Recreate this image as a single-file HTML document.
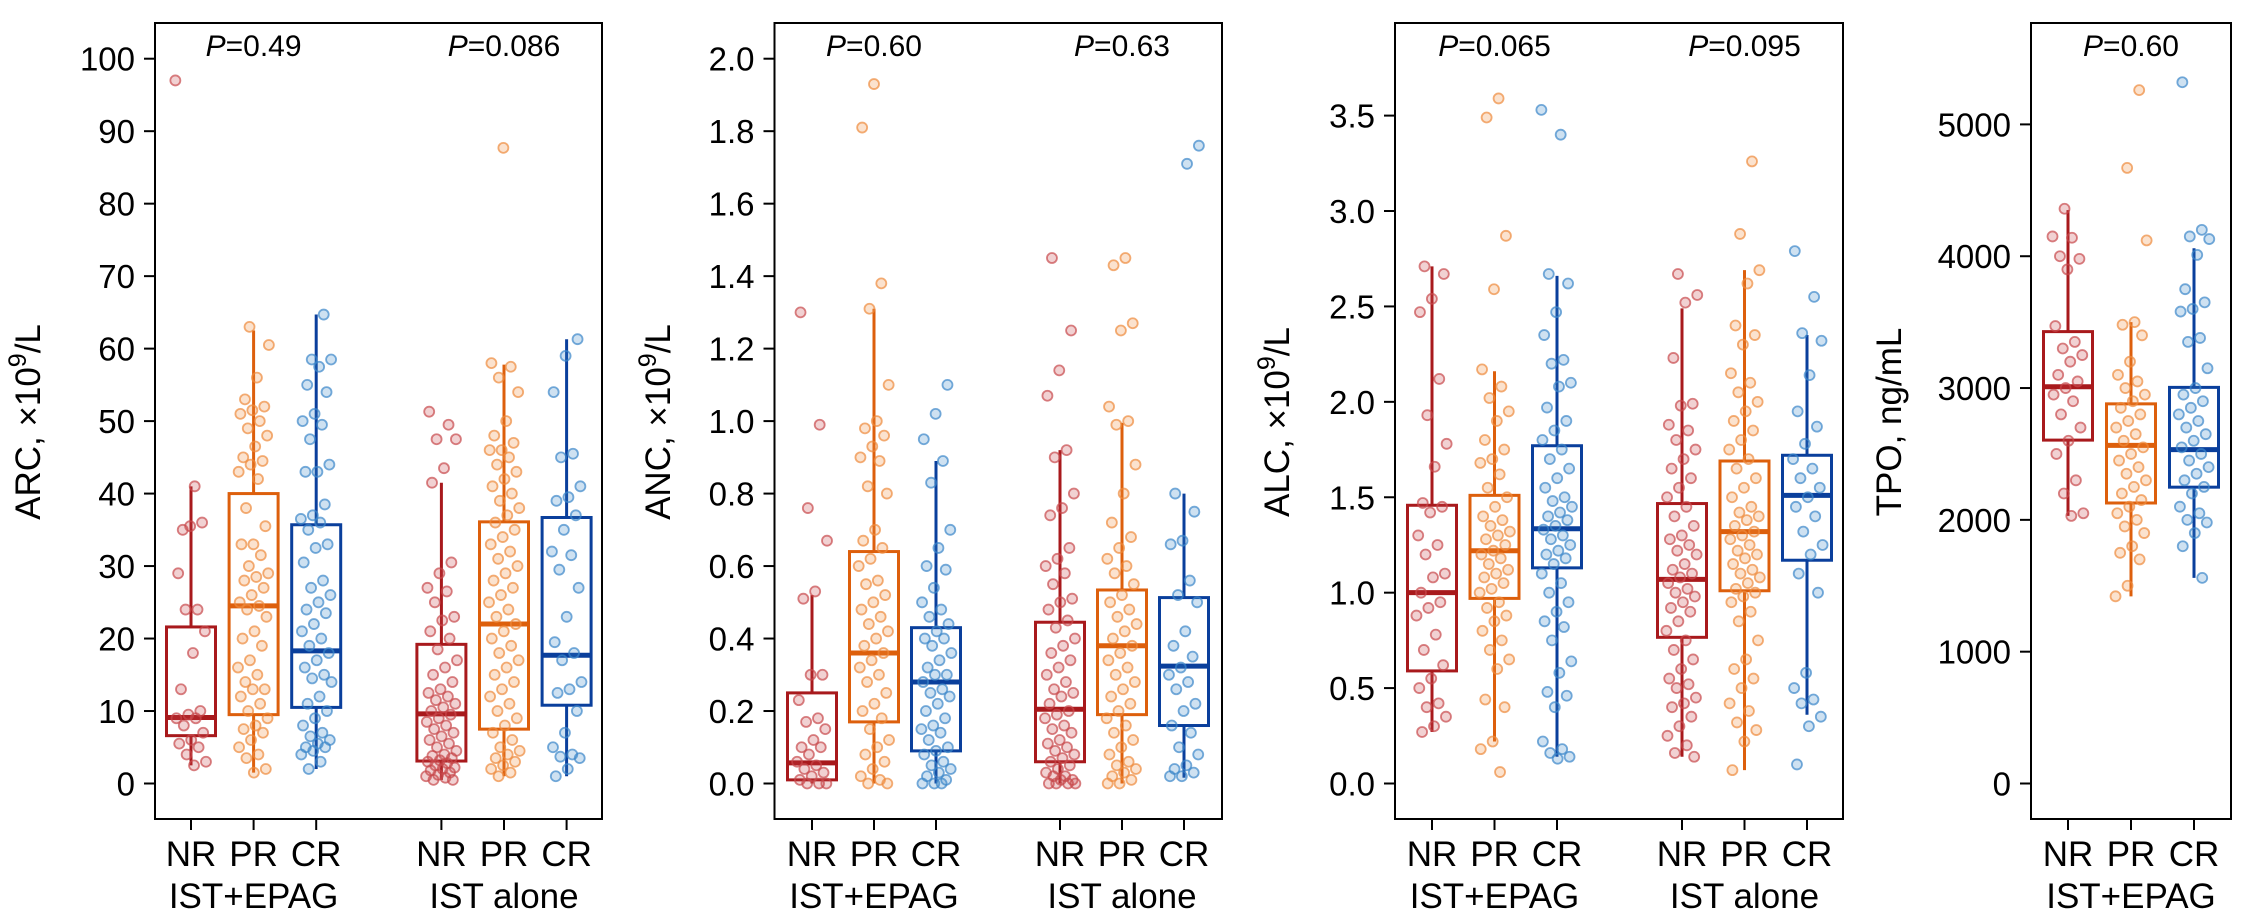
<!DOCTYPE html>
<html><head><meta charset="utf-8"><style>
html,body{margin:0;padding:0;background:#fff;}
svg{display:block;}
text{font-family:"Liberation Sans",Arial,sans-serif;fill:#000;}
</style></head><body>
<svg id="chart" width="2253" height="920" viewBox="0 0 2253 920"></svg>
<script>
// ---- data ----
const groups = ["NR","PR","CR"];
const arms = ["IST+EPAG","IST alone"];
// Panel ARC
const arcStats = [ // [whiskerLo, q1, median, q3, whiskerHi]
 [2.5,6.6,9.1,21.6,41],[1.5,9.5,24.5,40,62.5],[2,10.5,18.3,35.7,64.7],
 [0.5,3.1,9.6,19.2,41.5],[1.0,7.5,22,36.1,57.8],[1,10.8,17.7,36.7,61.3]];
const arcPts = [
 [97,41,35,36,35.5,29,24,24,21,18,13,10,9.5,9,9,8,7,6,5.5,5,4,3,2.5],
 [63,60.5,56,53,52,51.5,51,50,49,48,46.5,45,44.5,44,43,42,38,35.5,33,33,31.5,30,29,28.5,28,27,26,25,24.5,24,23,21,20,19,17,16,15,14,13,13,12,11,10,9,8,7.5,7,6,5,4,3.5,2,1.5],
 [64.7,58.5,58.5,57.5,55,54,51,50,49.5,47.5,44,43,43,38.5,37,36.5,36,35,33,32.5,30.5,28,27,26,25,24,23.5,22,21,20,19,18,17,16,15,14.5,14,12,11,10,9,8,7,6.5,6,5.5,5,5,4.5,4,3,2],
 [51.3,49.5,47.5,47.5,43.5,41.5,30.5,29,27,26.5,25,23,22.5,21,20,18.5,17,16,15,14,13,12.5,12,11.5,11,10.5,10,9.5,9,8.5,8,7.5,7,6.5,6,5.5,5,4.5,4,3.8,3.5,3.2,3,2.8,2.5,2.2,2,1.8,1.5,1.2,1,0.8,0.5,0.5],
 [87.7,58,57.5,56,54,50,48,47,46,46,45,44,43,42,41,40,39,38,37,36,35,34,33,32,31,30,29,28,27,26,25,24,23,22,21,20,19,18,17,16,15,14,13,12,11,10,9,8,7,6,5,4.5,4,3.5,3,2.5,2,1.5,1],
 [61.3,59,54,45.5,45,41,39.5,39,37,35,32,31.5,29.5,27,23,19.5,18,17,14,13,12.5,10,7,5,4,3.7,3.5,2,1]];
const arcTicks = [0,10,20,30,40,50,60,70,80,90,100];
// Panel ANC
const ancStats = [
 [0,0.01,0.057,0.25,0.52],[0,0.17,0.36,0.64,1.31],[0,0.09,0.28,0.43,0.89],
 [0,0.06,0.205,0.445,0.92],[0,0.19,0.38,0.534,0.995],[0.016,0.16,0.324,0.513,0.80]];
const ancPts = [
 [1.30,0.99,0.76,0.67,0.53,0.51,0.30,0.30,0.23,0.18,0.17,0.15,0.12,0.10,0.10,0.08,0.06,0.05,0.04,0.03,0.02,0.01,0,0,0],
 [1.93,1.81,1.38,1.31,1.10,1.00,0.98,0.96,0.93,0.90,0.89,0.82,0.80,0.70,0.67,0.65,0.62,0.60,0.56,0.55,0.52,0.50,0.48,0.46,0.44,0.42,0.40,0.38,0.36,0.34,0.32,0.30,0.28,0.25,0.22,0.20,0.18,0.15,0.12,0.10,0.08,0.06,0.04,0.02,0.01,0,0],
 [1.10,1.02,0.95,0.89,0.83,0.70,0.65,0.60,0.59,0.54,0.50,0.48,0.46,0.44,0.42,0.40,0.40,0.38,0.36,0.34,0.32,0.30,0.30,0.28,0.26,0.25,0.24,0.22,0.20,0.18,0.16,0.15,0.14,0.12,0.10,0.09,0.08,0.06,0.05,0.04,0.03,0.02,0.01,0,0,0],
 [1.45,1.25,1.14,1.07,0.92,0.90,0.80,0.76,0.74,0.65,0.62,0.60,0.58,0.55,0.51,0.50,0.48,0.45,0.43,0.40,0.38,0.36,0.34,0.32,0.30,0.28,0.26,0.25,0.24,0.22,0.20,0.19,0.18,0.16,0.15,0.14,0.12,0.11,0.10,0.09,0.08,0.07,0.06,0.05,0.04,0.03,0.02,0.02,0.01,0.01,0,0,0,0],
 [1.45,1.43,1.27,1.25,1.04,1.0,0.99,0.88,0.80,0.72,0.68,0.65,0.62,0.60,0.58,0.55,0.52,0.50,0.48,0.46,0.44,0.42,0.40,0.38,0.36,0.34,0.32,0.30,0.28,0.26,0.24,0.22,0.20,0.18,0.16,0.14,0.12,0.10,0.08,0.06,0.05,0.04,0.03,0.02,0.01,0,0],
 [1.76,1.71,0.80,0.75,0.67,0.66,0.56,0.52,0.50,0.42,0.38,0.35,0.32,0.30,0.28,0.26,0.22,0.20,0.16,0.14,0.10,0.08,0.05,0.04,0.03,0.02,0.02]];
const ancTicks = [0,0.2,0.4,0.6,0.8,1.0,1.2,1.4,1.6,1.8,2.0];
// Panel ALC
const alcStats = [
 [0.27,0.59,1.0,1.458,2.71],[0.22,0.97,1.22,1.51,2.16],[0.14,1.13,1.335,1.77,2.66],
 [0.14,0.766,1.07,1.467,2.49],[0.07,1.01,1.32,1.69,2.69],[0.36,1.17,1.51,1.72,2.35]];
const alcPts = [
 [2.71,2.67,2.54,2.47,2.12,1.93,1.78,1.66,1.47,1.45,1.42,1.30,1.25,1.20,1.10,1.08,1.00,0.95,0.92,0.88,0.78,0.70,0.62,0.55,0.50,0.42,0.40,0.35,0.30,0.27],
 [3.59,3.49,2.87,2.59,2.17,2.08,2.02,1.95,1.90,1.80,1.75,1.70,1.68,1.62,1.55,1.50,1.45,1.40,1.38,1.35,1.32,1.30,1.28,1.25,1.22,1.20,1.18,1.15,1.12,1.10,1.08,1.05,1.02,1.00,0.95,0.92,0.88,0.85,0.80,0.75,0.70,0.65,0.60,0.44,0.40,0.22,0.18,0.06],
 [3.53,3.40,2.67,2.62,2.47,2.35,2.22,2.20,2.10,2.08,1.97,1.90,1.85,1.80,1.75,1.70,1.65,1.60,1.55,1.50,1.48,1.45,1.42,1.40,1.38,1.35,1.33,1.30,1.28,1.25,1.22,1.20,1.18,1.15,1.10,1.05,1.00,0.95,0.90,0.85,0.82,0.75,0.64,0.58,0.48,0.46,0.40,0.22,0.18,0.16,0.14,0.13],
 [2.67,2.56,2.52,2.23,1.99,1.98,1.88,1.85,1.80,1.75,1.70,1.65,1.60,1.55,1.50,1.45,1.40,1.35,1.30,1.28,1.25,1.22,1.20,1.15,1.12,1.10,1.08,1.05,1.02,1.00,0.98,0.95,0.92,0.90,0.85,0.80,0.75,0.70,0.65,0.60,0.55,0.52,0.50,0.45,0.42,0.40,0.35,0.30,0.25,0.20,0.16,0.14],
 [3.26,2.88,2.69,2.62,2.40,2.35,2.30,2.15,2.10,2.05,2.00,1.95,1.90,1.85,1.80,1.75,1.70,1.65,1.60,1.55,1.50,1.45,1.42,1.40,1.38,1.35,1.32,1.30,1.28,1.25,1.22,1.20,1.18,1.15,1.12,1.10,1.08,1.05,1.02,1.00,0.98,0.95,0.90,0.85,0.75,0.65,0.60,0.55,0.50,0.42,0.38,0.32,0.28,0.22,0.07],
 [2.79,2.55,2.36,2.32,2.14,1.95,1.87,1.78,1.70,1.65,1.60,1.55,1.50,1.45,1.40,1.32,1.25,1.20,1.10,1.00,0.58,0.50,0.44,0.42,0.35,0.30,0.10]];
const alcTicks = [0,0.5,1.0,1.5,2.0,2.5,3.0,3.5];
// Panel TPO
const tpoStats = [[2030,2605,3010,3428,4350],[1420,2128,2565,2880,3500],[1560,2248,2533,3005,4060]];
const tpoPts = [
 [4360,4150,4140,4000,3980,3900,3470,3350,3300,3250,3200,3100,3050,3000,2950,2900,2800,2700,2600,2500,2300,2200,2050,2030],
 [5260,4670,4120,3500,3480,3400,3200,3100,3050,3000,2950,2900,2850,2800,2750,2700,2650,2600,2550,2500,2450,2400,2350,2300,2250,2200,2150,2100,2050,2000,1950,1900,1800,1750,1700,1500,1420],
 [5320,4200,4150,4130,4010,3750,3650,3600,3580,3380,3350,3150,3000,2950,2900,2850,2800,2750,2700,2650,2600,2550,2500,2450,2400,2350,2300,2250,2200,2100,2050,2000,1980,1900,1800,1560]];
const tpoTicks = [0,1000,2000,3000,4000,5000];
const pLabels = [["0.49","0.086"],["0.60","0.63"],["0.065","0.095"],["0.60"]];

// ---- layout ----
const NS="http://www.w3.org/2000/svg";
const svg=document.getElementById('chart');
const boxCol=["#A8191C","#DD5F0C","#0A3F9C"];
const ptCol=["#C8484B","#EE8A3C","#3B86C9"];
function mk(tag,attrs,parent){const e=document.createElementNS(NS,tag);for(const k in attrs)e.setAttribute(k,attrs[k]);(parent||svg).appendChild(e);return e;}
const panels=[
 {name:"arc",title:["ARC, ×10","/L"],left:155,right:602,top:23,bottom:819,y0:783.5,yRefV:100,yRefPx:58.7,x1:191,unit:62.6,tx:40,stats:arcStats,pts:arcPts,ticks:arcTicks,dec:0,ngroups:2},
 {name:"anc",title:["ANC, ×10","/L"],left:774.5,right:1222,top:23,bottom:819,y0:783.5,yRefV:2.0,yRefPx:58.7,x1:812,unit:62,tx:670,stats:ancStats,pts:ancPts,ticks:ancTicks,dec:1,ngroups:2},
 {name:"alc",title:["ALC, ×10","/L"],left:1395,right:1843,top:23,bottom:819,y0:783.5,yRefV:3.5,yRefPx:115.6,x1:1432,unit:62.5,tx:1289,stats:alcStats,pts:alcPts,ticks:alcTicks,dec:1,ngroups:2},
 {name:"tpo",title:["TPO, ng/mL"],left:2031,right:2231,top:23,bottom:819,y0:783.5,yRefV:5000,yRefPx:124.4,x1:2068,unit:63,tx:1901,stats:tpoStats,pts:tpoPts,ticks:tpoTicks,dec:0,ngroups:1}];

panels.forEach((p,pi)=>{
 const g=mk('g',{});
 
 
 const ys=v=>p.y0-(v/p.yRefV)*(p.y0-p.yRefPx);
 const xs=k=>p.x1+k*p.unit;
 const slot=i=>i<3?i:i+1;
 const fr=mk('rect',{x:p.left,y:p.top,width:p.right-p.left,height:p.bottom-p.top,fill:'none',stroke:'#000','stroke-width':2},g);
 
 
 p.ticks.forEach(t=>{
  const y=ys(t);
  mk('line',{x1:p.left-11,x2:p.left,y1:y,y2:y,stroke:'#000','stroke-width':2},g);
  const lb=mk('text',{x:p.left-20,y:y+12,'text-anchor':'end','font-size':33},g);
  lb.textContent=t.toFixed(p.dec);
  
  
 });
 const tt=mk('text',{x:p.tx,y:422,'text-anchor':'middle','font-size':35,transform:`rotate(-90 ${p.tx} 422)`},g);
 
 
 if(p.title.length>1){
  tt.appendChild(document.createTextNode(p.title[0]));
  const sp=document.createElementNS(NS,'tspan');sp.setAttribute('dy','-14');sp.setAttribute('font-size','25');sp.textContent='9';tt.appendChild(sp);
  const sp2=document.createElementNS(NS,'tspan');sp2.setAttribute('dy','14');sp2.textContent=p.title[1];tt.appendChild(sp2);
 } else tt.textContent=p.title[0];
 const n=p.ngroups*3;
 for(let i=0;i<n;i++){
  const cx=xs(slot(i)), c=i%3, s=p.stats[i], bw=49;
  const bg=mk('g',{},g);
  
  
  mk('line',{x1:cx,x2:cx,y1:ys(s[4]),y2:ys(s[3]),stroke:boxCol[c],'stroke-width':3},bg);
  mk('line',{x1:cx,x2:cx,y1:ys(s[1]),y2:ys(s[0]),stroke:boxCol[c],'stroke-width':3},bg);
  mk('rect',{x:cx-bw/2,y:ys(s[3]),width:bw,height:ys(s[1])-ys(s[3]),fill:'none',stroke:boxCol[c],'stroke-width':3},bg);
  mk('line',{x1:cx-bw/2,x2:cx+bw/2,y1:ys(s[2]),y2:ys(s[2]),stroke:boxCol[c],'stroke-width':5},bg);
  p.pts[i].forEach((v,j)=>{
   const jit=(((j*0.61803+i*0.37+pi*0.13)%1)-0.5)*0.5*p.unit;
   const pt=mk('circle',{cx:cx+jit,cy:ys(v),r:5,fill:ptCol[c],'fill-opacity':0.25,stroke:ptCol[c],'stroke-opacity':0.7,'stroke-width':1.8},bg);
   
   
  });
  mk('line',{x1:cx,x2:cx,y1:p.bottom,y2:p.bottom+11,stroke:'#000','stroke-width':2},g);
  const xl=mk('text',{x:cx,y:866,'text-anchor':'middle','font-size':35},g);
  xl.textContent=groups[c];
  
  
 }
 for(let a=0;a<p.ngroups;a++){
  const cx=xs(a*4+1);
  const al=mk('text',{x:cx,y:908,'text-anchor':'middle','font-size':35},g);
  al.textContent=arms[a];
  
  
  const pl=mk('text',{x:cx,y:56,'text-anchor':'middle','font-size':30},g);
  
  
  const it=document.createElementNS(NS,'tspan');it.setAttribute('font-style','italic');it.textContent='P';pl.appendChild(it);
  pl.appendChild(document.createTextNode('='+pLabels[pi][a]));
 }
});
</script>
</body></html>
